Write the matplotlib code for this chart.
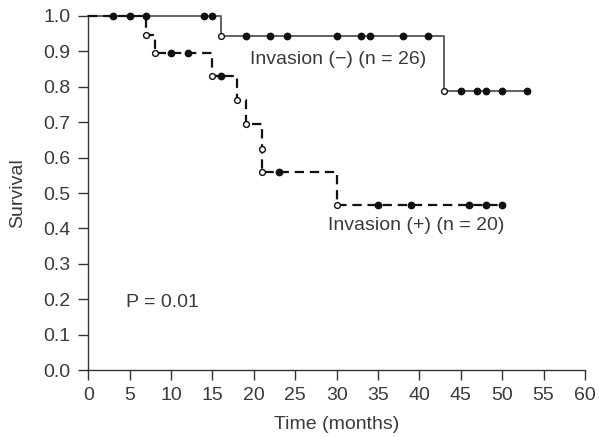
import matplotlib
matplotlib.use("Agg")
import matplotlib.pyplot as plt
import numpy as np

plt.rcParams['font.family'] = ['Liberation Sans', 'DejaVu Sans']

# Invasion (-) group (n=26)
neg_event_times = [16, 43]
neg_event_surv = [0.944, 0.787]
neg_censor_times = [3, 5, 7, 14, 15, 19, 22, 24, 30, 33, 34, 38, 41, 45, 47, 48, 50, 53]
neg_end = 53

# Invasion (+) group (n=20)
pos_event_times = [7, 8, 15, 18, 19, 21, 21, 30]
pos_event_surv = [0.947, 0.895, 0.83, 0.763, 0.695, 0.625, 0.558, 0.465]
pos_censor_times = [10, 12, 16, 23, 35, 39, 46, 48, 50]
pos_end = 50

x_ticks = list(range(0, 61, 5))
y_ticks = [i / 10 for i in range(0, 11)]

TXT = '#3a3a3a'


def km_steps(ev_t, ev_s, end):
    t = [0.0]
    s = [1.0]
    for ti, si in zip(ev_t, ev_s):
        t += [ti, ti]
        s += [s[-1], si]
    t.append(end)
    s.append(s[-1])
    return np.array(t), np.array(s)


def level_at(ev_t, ev_s, x):
    lvl = 1.0
    for ti, si in zip(ev_t, ev_s):
        if ti <= x:
            lvl = si
    return lvl


fig = plt.figure(figsize=(5.99, 4.37), dpi=100)
ax = fig.add_axes([0.1474, 0.1533, 0.8292, 0.8101])

# negative curve
t, s = km_steps(neg_event_times, neg_event_surv, neg_end)
ax.plot(t, s, color='#555555', lw=1.3, clip_on=False, zorder=2)
cy = [level_at(neg_event_times, neg_event_surv, c) for c in neg_censor_times]
ax.plot(neg_censor_times, cy, 'o', ms=4.6, color='#111111', clip_on=False, zorder=4)
ax.plot(neg_event_times, neg_event_surv, 'o', ms=4.2, mfc='white', mec='#111111', mew=1.0,
        clip_on=False, zorder=5)

# positive curve
t, s = km_steps(pos_event_times, pos_event_surv, pos_end)
ax.plot(t, s, color='#111111', lw=1.6, ls=(0, (4.2, 2.6)), clip_on=False, zorder=3)
cy = [level_at(pos_event_times, pos_event_surv, c) for c in pos_censor_times]
ax.plot(pos_censor_times, cy, 'o', ms=4.6, color='#111111', clip_on=False, zorder=4)
ax.plot(pos_event_times, pos_event_surv, 'o', ms=4.2, mfc='white', mec='#111111', mew=1.0,
        clip_on=False, zorder=5)

FS = 14
ax.text(19.5, 0.876, 'Invasion (\u2212) (n = 26)', fontsize=FS, color=TXT, va='center', ha='left')
ax.text(28.9, 0.407, 'Invasion (+) (n = 20)', fontsize=FS, color=TXT, va='center', ha='left')
ax.text(4.6, 0.19, 'P = 0.01', fontsize=FS, color=TXT, va='center', ha='left')

ax.set_xlim(0, 60)
ax.set_ylim(0, 1.0)
ax.set_xticks(x_ticks)
ax.set_yticks(y_ticks)
ax.set_yticklabels([f'{v:.1f}' for v in y_ticks])
ax.tick_params(direction='out', length=7, width=1.0, color='#333333', labelcolor=TXT,
               labelsize=FS)
ax.tick_params(axis='y', pad=6)
ax.tick_params(axis='x', pad=5)
for side in ['top', 'right']:
    ax.spines[side].set_visible(False)
for side in ['left', 'bottom']:
    ax.spines[side].set_color('#333333')
    ax.spines[side].set_linewidth(1.0)

ax.set_xlabel('Time (months)', fontsize=FS, color=TXT, labelpad=9)
ax.set_ylabel('Survival', fontsize=FS, color=TXT, labelpad=12)

fig.savefig('out.png', dpi=100)
